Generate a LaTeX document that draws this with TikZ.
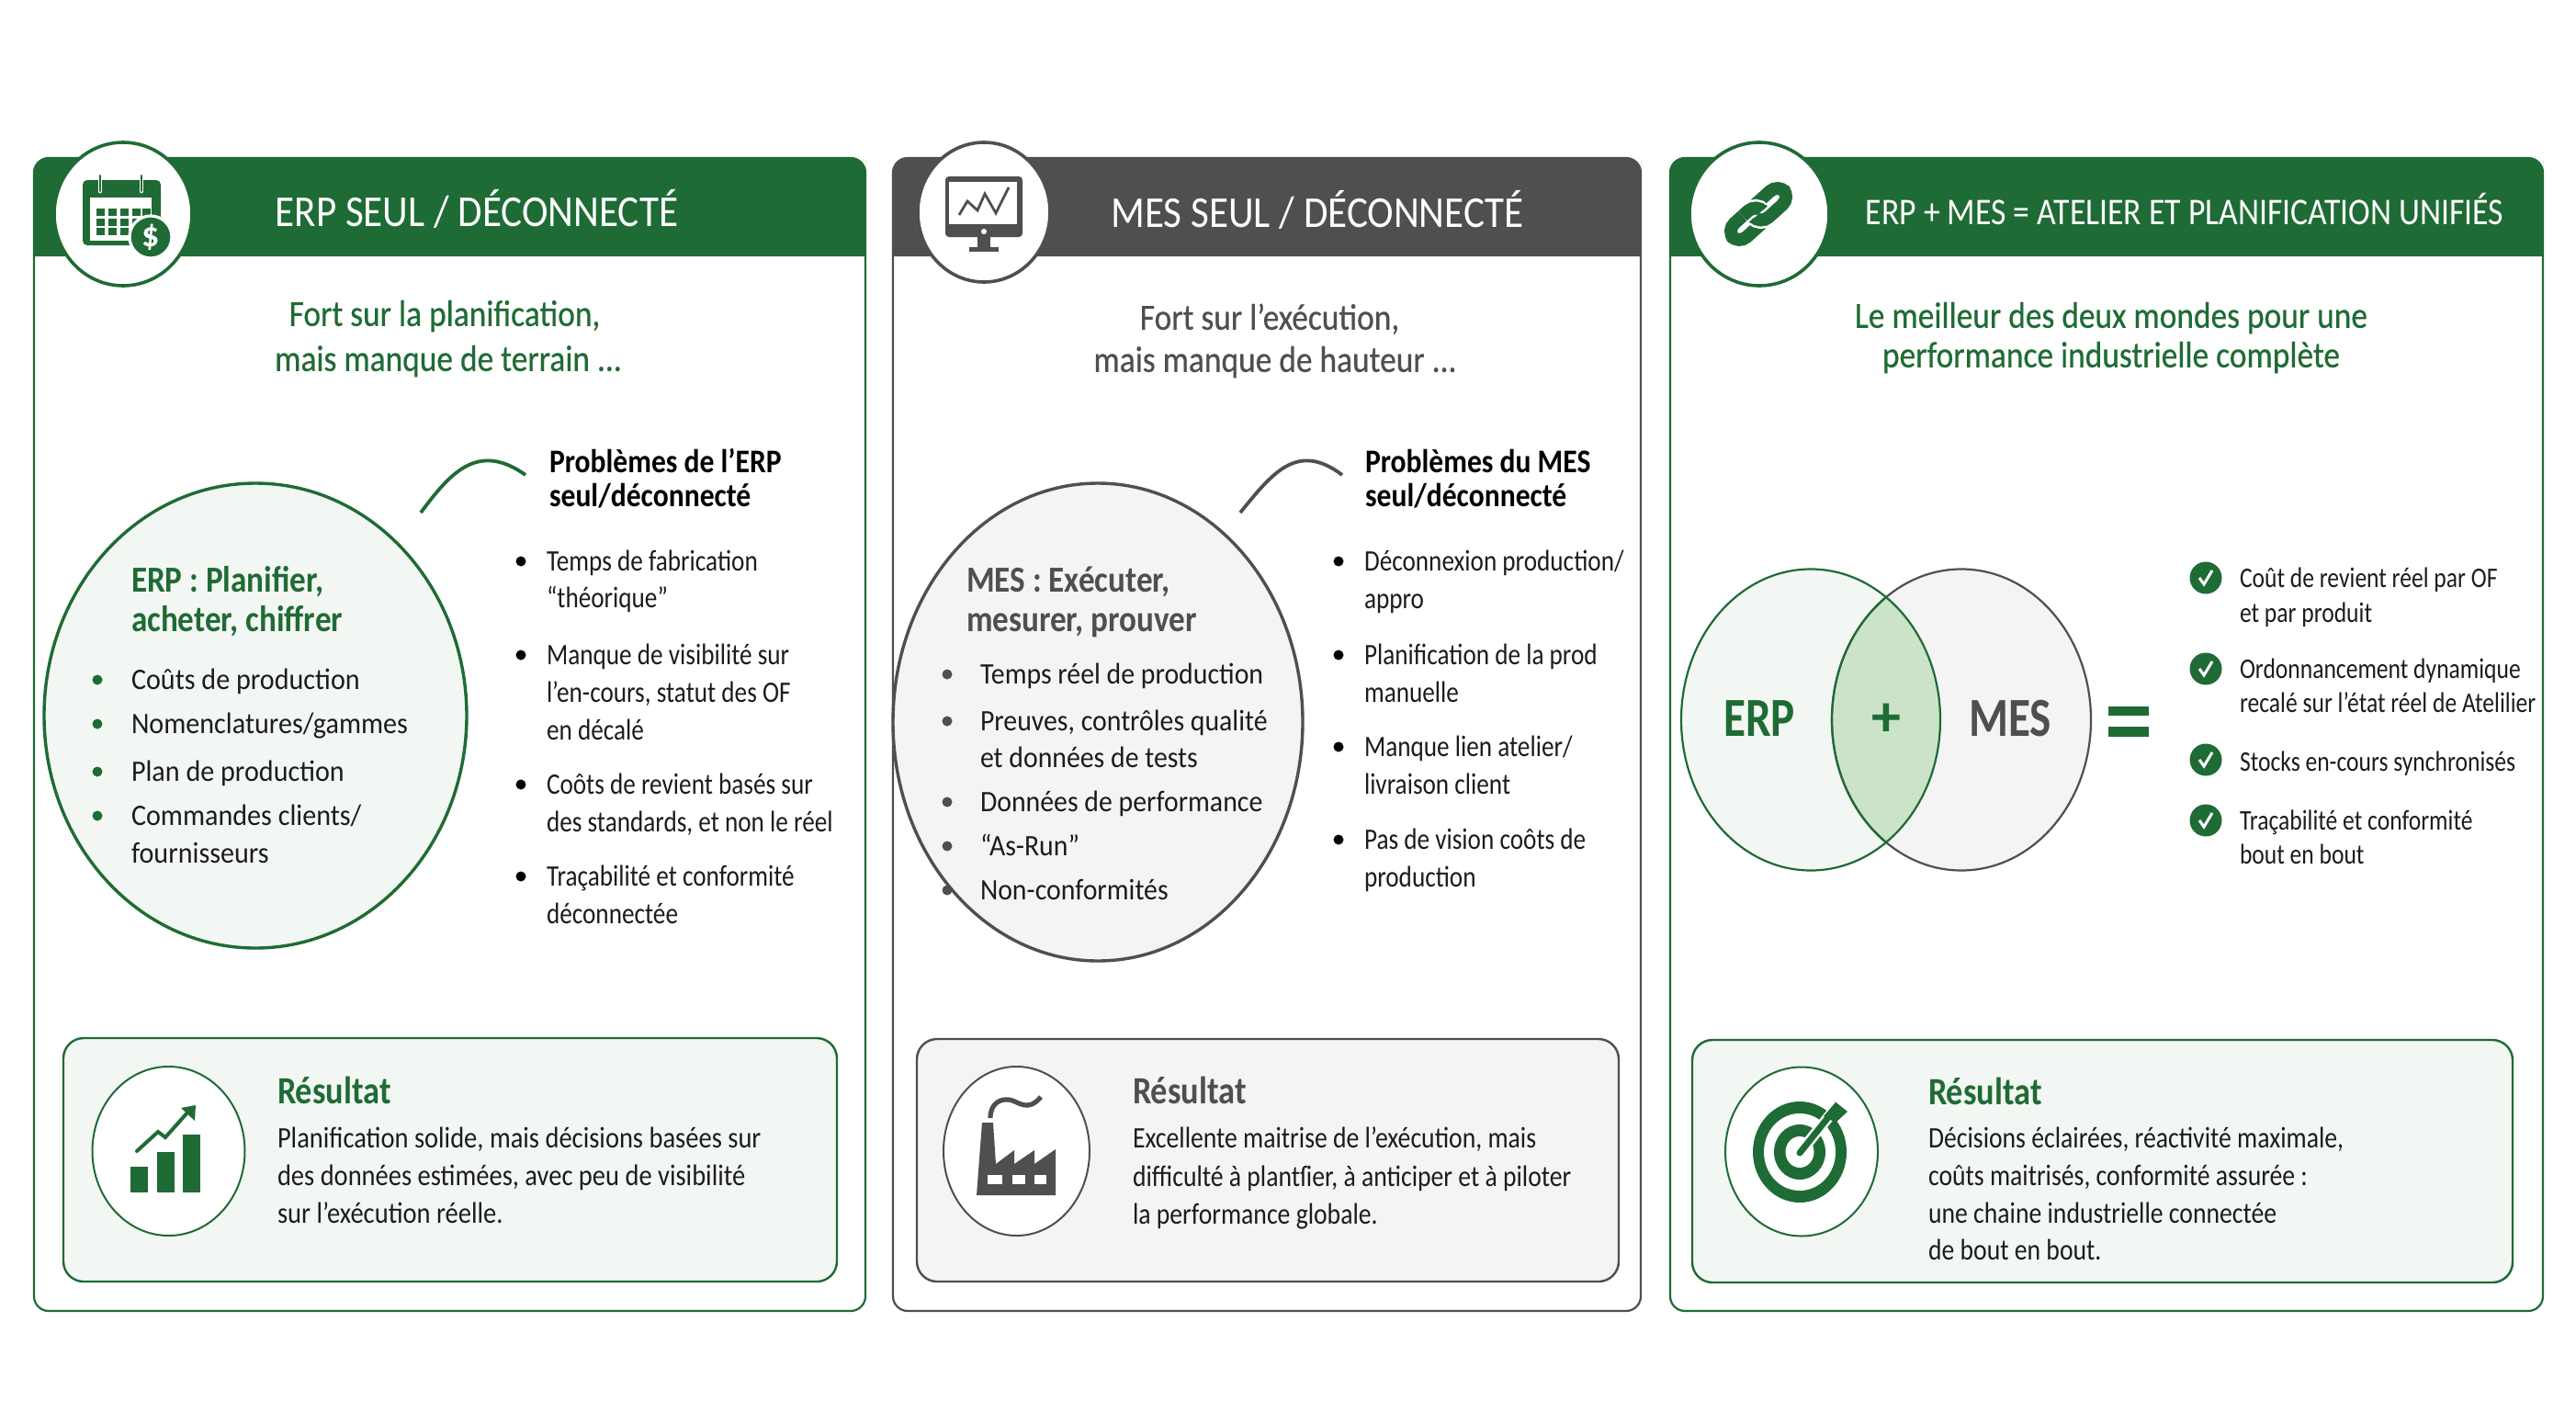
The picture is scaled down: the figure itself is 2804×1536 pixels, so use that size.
\documentclass[tikz,border=0pt]{standalone}
\usepackage{fontspec}
\usetikzlibrary{shapes.geometric}
\setmainfont{Carlito}
\newfontfamily\nf[FakeStretch=0.82]{Carlito}
\newfontfamily\fhd[FakeStretch=0.897]{Carlito}
\newfontfamily\fhc[FakeStretch=0.87]{Carlito}
\newfontfamily\fsb[FakeStretch=0.885,FakeBold=0.5]{Carlito}
\newfontfamily\fbd[FakeStretch=0.88]{Carlito}
\newfontfamily\fpt[FakeStretch=0.878]{Carlito}
\newfontfamily\frt[FakeStretch=0.866]{Carlito}
\newfontfamily\fea[FakeStretch=0.93]{Carlito}
\newfontfamily\feb[FakeStretch=0.92]{Carlito}
\newfontfamily\fpr[FakeStretch=0.84]{Carlito}
\newfontfamily\fvn[FakeStretch=0.825]{Carlito}
\newfontfamily\frs[FakeStretch=0.855]{Carlito}
\definecolor{gr}{HTML}{1F6B35}
\definecolor{dk}{HTML}{4F4F4F}
\definecolor{lgr}{HTML}{F3F7F3}
\definecolor{lgy}{HTML}{F4F4F4}
\definecolor{mix}{HTML}{CBE3C8}
\definecolor{ink}{HTML}{1C1C1C}
\tikzset{
  x=0.5pt,y=-0.5pt,
  tl/.style={anchor=mid west,inner sep=0pt,outer sep=0pt},
  tc/.style={anchor=mid,inner sep=0pt,outer sep=0pt},
  hd/.style={tc,yshift=-6pt,text=white,font=\fhd\fontsize{24}{27}\selectfont},
  hdc/.style={tc,yshift=-4pt,text=white,font=\fhc\fontsize{20.5}{24}\selectfont},
  sub/.style={tc,yshift=-3.5pt,font=\fsb\fontsize{20}{23}\selectfont},
  body/.style={tl,yshift=-2.7pt,text=ink,font=\fbd\fontsize{16.2}{19}\selectfont},
  bodyea/.style={body,font=\fea\fontsize{16.2}{19}\selectfont},
  bodyeb/.style={body,font=\feb\fontsize{16.2}{19}\selectfont},
  bodypr/.style={body,font=\fpr\fontsize{16.2}{19}\selectfont},
  bodyvn/.style={body,font=\fvn\fontsize{15.5}{18}\selectfont},
  bodyrs/.style={body,font=\frs\fontsize{16.2}{19}\selectfont},
  ptitle/.style={tl,yshift=-3.7pt,text=black,font=\fpt\bfseries\fontsize{18}{21}\selectfont},
  etitle/.style={tl,yshift=-3.7pt,font=\fpt\bfseries\fontsize{20}{23}\selectfont},
  rtitle/.style={tl,yshift=-5.5pt,font=\frt\bfseries\fontsize{21}{24}\selectfont},
  vlab/.style={tc,yshift=-8pt,font=\nf\bfseries\fontsize{30}{32}\selectfont},
  dot/.style={circle,fill=#1,draw=none,minimum size=5.5pt,inner sep=0pt},
  oval/.style={ellipse,inner sep=0pt},
  icon/.style={oval,fill=white,draw=#1,line width=1.8pt},
  rbox/.style={rounded corners=11pt,line width=1.2pt},
  chk/.style={circle,fill=gr,minimum size=17.5pt,inner sep=0pt},
}
\begin{document}
\begin{tikzpicture}
\useasboundingbox (0,0) rectangle (2804,1536);
\fill[white] (0,0) rectangle (2804,1536);
% ---------- cards
\draw[gr,line width=1.1pt,rounded corners=8pt] (37,172) rectangle (942,1427);
\draw[dk,line width=1.1pt,rounded corners=8pt] (972,172) rectangle (1786,1427);
\draw[gr,line width=1.1pt,rounded corners=8pt] (1818,172) rectangle (2768,1427);
\fill[gr,rounded corners=8pt] (37,279) [sharp corners] -- (37,190) [rounded corners=8pt] -- (37,172) -- (942,172) -- (942,190) [sharp corners] -- (942,279) -- cycle;
\fill[dk,rounded corners=8pt] (972,279) [sharp corners] -- (972,190) [rounded corners=8pt] -- (972,172) -- (1786,172) -- (1786,190) [sharp corners] -- (1786,279) -- cycle;
\fill[gr,rounded corners=8pt] (1818,279) [sharp corners] -- (1818,190) [rounded corners=8pt] -- (1818,172) -- (2768,172) -- (2768,190) [sharp corners] -- (2768,279) -- cycle;
% ---------- header ovals
\node[icon=gr,minimum width=75pt,minimum height=78pt] (ic1) at (134,233) {};
\node[icon=dk,minimum width=72pt,minimum height=76pt] (ic2) at (1071,231) {};
\node[icon=gr,minimum width=76pt,minimum height=78pt] (ic3) at (1915,233) {};
% calendar
\fill[gr,rounded corners=2.5pt] (90,196) rectangle (175,267);
\fill[white] (98,215) rectangle (165,262);
\foreach \x in {105,118,131,144,155}{\foreach \y in {227,238,248}{\fill[gr] (\x,\y) rectangle +(9,8);}}
\foreach \x in {109,154}{\draw[white,line width=2.4pt,line cap=round] (\x,191) -- (\x,208);\draw[gr,line width=1pt,line cap=round] (\x,191) -- (\x,208);}
\node[circle,fill=gr,draw=white,line width=1.6pt,minimum size=23pt,inner sep=0pt,text=white,font=\fontsize{19}{20}\selectfont\bfseries] (dollar) at (164,258) {\$};
% monitor
\fill[dk,rounded corners=2pt] (1029,192) rectangle (1113,258);
\fill[white] (1033,198) rectangle (1107,244);
\draw[dk,line width=1.4pt,line join=miter] (1044,234) -- (1053,219) -- (1064,229) -- (1072,211) -- (1084,232) -- (1098,204);
\fill[white] (1071,252) circle (3);
\fill[dk] (1064,258) rectangle (1078,270);
\fill[dk] (1055,269) rectangle (1087,274);
% link
\begin{scope}[shift={(1914,233)},rotate=42]
  \draw[gr,line width=7pt,rounded corners=6pt] (-38,-10) rectangle (6,10);
  \draw[white,line width=9.5pt,rounded corners=6pt] (-6,-10) rectangle (38,10);
  \draw[gr,line width=7pt,rounded corners=6pt] (-6,-10) rectangle (38,10);
  \begin{scope}
    \clip (-14,-24) rectangle (14,0);
    \draw[white,line width=9.5pt,rounded corners=6pt] (-38,-10) rectangle (6,10);
    \draw[gr,line width=7pt,rounded corners=6pt] (-38,-10) rectangle (6,10);
  \end{scope}
\end{scope}
% ---------- header text
\node[hd] (h1) at (519,230) {ERP SEUL / DÉCONNECTÉ};
\node[hd] (h2) at (1434,231) {MES SEUL / DÉCONNECTÉ};
\node[hdc] (h3) at (2378,232) {ERP + MES = ATELIER ET PLANIFICATION UNIFIÉS};
% ---------- subtitles
\node[sub,text=gr] (s11) at (484,343) {Fort sur la planification,};
\node[sub,text=gr] (s12) at (488,392) {mais manque de terrain ...};
\node[sub,text=dk] (s21) at (1382,347) {Fort sur l’exécution,};
\node[sub,text=dk] (s22) at (1388,393) {mais manque de hauteur ...};
\node[sub,text=gr] (s31) at (2298,345) {Le meilleur des deux mondes pour une};
\node[sub,text=gr] (s32) at (2298,388) {performance industrielle complète};
% ---------- card 1 middle
\node[oval,fill=lgr,draw=gr,line width=1.7pt,minimum width=230pt,minimum height=253pt] (erpo) at (278,779) {};
\node[etitle,text=gr] (e1a) at (143,632) {ERP : Planifier,};
\node[etitle,text=gr] (e1b) at (143,675) {acheter, chiffrer};
\foreach \n/\y in {a/740,b/788,c/840,d/888}{\node[dot=gr] (e1d\n) at (106,\y) {};}
\node[bodyea] (e1t1) at (143,740) {Coûts de production};
\node[bodyea] (e1t2) at (143,788) {Nomenclatures/gammes};
\node[bodyea] (e1t3) at (143,840) {Plan de production};
\node[bodyea] (e1t4) at (143,888) {Commandes clients/};
\node[bodyea] (e1t5) at (143,929) {fournisseurs};
\node[ptitle] (p1a) at (598,502) {Problèmes de l’ERP};
\node[ptitle] (p1b) at (598,539) {seul/déconnecté};
\coordinate (c1a) at (458,558); \coordinate (c1b) at (572,517);
\draw[gr,line width=1.9pt] (c1a) .. controls (490,515) and (520,480) .. (c1b);
\foreach \n/\y in {a/611,b/713,c/854,d/954}{\node[dot=black] (q1d\n) at (567,\y) {};}
\node[bodypr] (q1t1) at (595,611) {Temps de fabrication};
\node[bodypr] (q1t2) at (595,651) {“théorique”};
\node[bodypr] (q1t3) at (595,713) {Manque de visibilité sur};
\node[bodypr] (q1t4) at (595,754) {l’en-cours, statut des OF};
\node[bodypr] (q1t5) at (595,795) {en décalé};
\node[bodypr] (q1t6) at (595,854) {Coôts de revient basés sur};
\node[bodypr] (q1t7) at (595,895) {des standards, et non le réel};
\node[bodypr] (q1t8) at (595,954) {Traçabilité et conformité};
\node[bodypr] (q1t9) at (595,995) {déconnectée};
% ---------- card 2 middle
\node[oval,fill=lgy,draw=dk,line width=1.7pt,minimum width=223pt,minimum height=260pt] (meso) at (1195,786) {};
\node[etitle,text=dk] (e2a) at (1052,632) {MES : Exécuter,};
\node[etitle,text=dk] (e2b) at (1052,675) {mesurer, prouver};
\foreach \n/\y in {a/734,b/785,c/873,d/921,e/969}{\node[dot=dk] (e2d\n) at (1031,\y) {};}
\node[bodyeb] (e2t1) at (1067,734) {Temps réel de production};
\node[bodyeb] (e2t2) at (1067,785) {Preuves, contrôles qualité};
\node[bodyeb] (e2t3) at (1067,825) {et données de tests};
\node[bodyeb] (e2t4) at (1067,873) {Données de performance};
\node[bodyeb] (e2t5) at (1067,921) {“As-Run”};
\node[bodyeb] (e2t6) at (1067,969) {Non-conformités};
\node[ptitle] (p2a) at (1486,502) {Problèmes du MES};
\node[ptitle] (p2b) at (1486,539) {seul/déconnecté};
\coordinate (c2a) at (1350,558); \coordinate (c2b) at (1461,517);
\draw[dk,line width=1.9pt] (c2a) .. controls (1385,515) and (1412,480) .. (c2b);
\foreach \n/\y in {a/611,b/713,c/813,d/914}{\node[dot=black] (q2d\n) at (1457,\y) {};}
\node[bodypr] (q2t1) at (1485,611) {Déconnexion production/};
\node[bodypr] (q2t2) at (1485,652) {appro};
\node[bodypr] (q2t3) at (1485,713) {Planification de la prod};
\node[bodypr] (q2t4) at (1485,754) {manuelle};
\node[bodypr] (q2t5) at (1485,813) {Manque lien atelier/};
\node[bodypr] (q2t6) at (1485,854) {livraison client};
\node[bodypr] (q2t7) at (1485,914) {Pas de vision coôts de};
\node[bodypr] (q2t8) at (1485,955) {production};
% ---------- card 3 venn
\node[oval,fill=lgr,draw=none,minimum width=141pt,minimum height=164pt] (vE) at (1971,783.5) {};
\node[oval,fill=lgy,draw=none,minimum width=141pt,minimum height=164pt] (vM) at (2135,783.5) {};
\begin{scope}
  \clip (1971,783.5) ellipse [x radius=141,y radius=164];
  \fill[mix] (2135,783.5) ellipse [x radius=141,y radius=164];
\end{scope}
\draw[dk,line width=1.1pt] (2135,783.5) ellipse [x radius=141,y radius=164];
\draw[gr,line width=1.1pt] (1971,783.5) ellipse [x radius=141,y radius=164];
\begin{scope}
  \clip (1971,783.5) ellipse [x radius=141,y radius=164];
  \draw[gr,line width=1.1pt] (2135,783.5) ellipse [x radius=141,y radius=164];
\end{scope}
\node[vlab,text=gr] (vErp) at (1915,781) {ERP};
\node[tc,yshift=-8pt,text=gr,font=\bfseries\fontsize{32}{34}\selectfont] (vPlus) at (2053,781) {+};
\node[vlab,text=dk] (vMes) at (2188,781) {MES};
\fill[gr] (2295,769) rectangle (2339,779);
\fill[gr] (2295,791) rectangle (2339,802);
\foreach \n/\y in {a/629,b/728,c/827,d/893}{
  \node[chk] (k\n) at (2401,\y) {};
  \draw[white,line width=1.5pt] ([shift={(-7,0)}]k\n.center) -- ([shift={(-2,7)}]k\n.center) -- ([shift={(7,-8)}]k\n.center);
}
\node[bodyvn] (v1) at (2438,629) {Coût de revient réel par OF};
\node[bodyvn] (v2) at (2438,667) {et par produit};
\node[bodyvn] (v3) at (2438,728) {Ordonnancement dynamique};
\node[bodyvn] (v4) at (2438,765) {recalé sur l’état réel de Atelilier};
\node[bodyvn] (v5) at (2438,829) {Stocks en-cours synchronisés};
\node[bodyvn] (v6) at (2438,893) {Traçabilité et conformité};
\node[bodyvn] (v7) at (2438,930) {bout en bout};
% ---------- result boxes
\draw[rbox,draw=gr,fill=lgr] (69,1130) rectangle (911,1395);
\draw[rbox,draw=dk,fill=lgy] (998,1131) rectangle (1762,1395);
\draw[rbox,draw=gr,fill=lgr] (1842,1132) rectangle (2735,1396);
\node[oval,fill=white,draw=gr,line width=1pt,minimum width=83pt,minimum height=92pt] (r1) at (183.5,1253) {};
\node[oval,fill=white,draw=dk,line width=1pt,minimum width=79.5pt,minimum height=92pt] (r2) at (1106.5,1253) {};
\node[oval,fill=white,draw=gr,line width=1pt,minimum width=83pt,minimum height=92pt] (r3) at (1961,1253.5) {};
% chart
\fill[gr] (142,1270) rectangle (161,1298);
\fill[gr] (171,1254) rectangle (190,1298);
\fill[gr] (199,1235) rectangle (218,1298);
\draw[gr,line width=2pt,line cap=round] (149,1253) -- (172,1232) -- (180,1238) -- (205,1210);
\fill[gr] (213,1203) -- (197,1206) -- (212,1220) -- cycle;
% factory
\fill[dk] (1063,1301) -- (1069,1222) -- (1081,1222) -- (1084,1267) -- (1104,1252) -- (1104,1267) -- (1126,1252) -- (1126,1267) -- (1149,1251) -- (1149,1301) -- cycle;
\fill[white] (1075,1279) rectangle (1091,1289);
\fill[white] (1102,1279) rectangle (1116,1289);
\fill[white] (1126,1279) rectangle (1139,1289);
\draw[dk,line width=2.6pt] (1078,1217) .. controls (1078,1200) and (1090,1196) .. (1098,1197) .. controls (1108,1198) and (1118,1212) .. (1133,1194);
% target
\fill[gr] (1959,1254) ellipse [x radius=51,y radius=55];
\fill[white] (1959,1254) ellipse [x radius=39,y radius=42];
\fill[gr] (1959,1254) ellipse [x radius=28,y radius=30];
\fill[white] (1959,1254) ellipse [x radius=15.5,y radius=17];
\draw[white,line width=6pt] (1959,1255) -- (1995,1210);
\draw[gr,line width=3.5pt,line cap=round] (1959,1255) -- (1995,1210);
\fill[gr] (1985,1215) -- (1998,1200) -- (1996,1198) -- (2011,1210) -- (1998,1222) -- cycle;
% result text
\node[rtitle,text=gr] (rt1) at (302,1186) {Résultat};
\node[body] (rl1) at (302,1239) {Planification solide, mais décisions basées sur};
\node[body] (rl2) at (302,1280) {des données estimées, avec peu de visibilité};
\node[body] (rl3) at (302,1321) {sur l’exécution réelle.};
\node[rtitle,text=dk] (rt2) at (1233,1186) {Résultat};
\node[bodyrs] (rm1) at (1233,1239) {Excellente maitrise de l’exécution, mais};
\node[bodyrs] (rm2) at (1233,1281) {difficulté à plantſier, à anticiper et à piloter};
\node[bodyrs] (rm3) at (1233,1322) {la performance globale.};
\node[rtitle,text=gr] (rt3) at (2099,1187) {Résultat};
\node[bodyrs] (rn1) at (2099,1239) {Décisions éclairées, réactivité maximale,};
\node[bodyrs] (rn2) at (2099,1280) {coûts maitrisés, conformité assurée :};
\node[bodyrs] (rn3) at (2099,1321) {une chaine industrielle connectée};
\node[bodyrs] (rn4) at (2099,1361) {de bout en bout.};
\end{tikzpicture}
\end{document}
